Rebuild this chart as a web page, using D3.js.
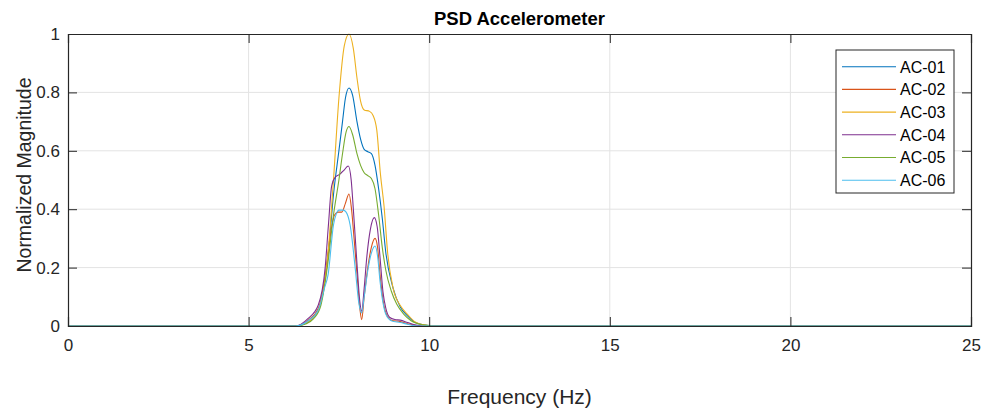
<!DOCTYPE html>
<html>
<head>
<meta charset="utf-8">
<script src="https://cdn.jsdelivr.net/npm/d3@7"></script>
<style>
  body { margin: 0; background: #fff; }
  svg text { font-family: "Liberation Sans", Arial, sans-serif; }
</style>
</head>
<body>
<div id="main"></div>
<script>
const ctx = {
    w: 984,
    h: 409,
    margin: { top: 34, right: 13, bottom: 83, left: 68 },
};

// valeurs : [fréquence (Hz), amplitude normalisée]
const seriesNames = ["AC-01", "AC-02", "AC-03", "AC-04", "AC-05", "AC-06"];
const seriesColors = ["#0072BD", "#D95319", "#EDB120", "#7E2F8E", "#77AC30", "#4DBEEE"];

const ac01 = [[0,0],[6.3,0],[6.6,0.01],[6.8,0.03],[7.0,0.08],[7.2,0.24],[7.35,0.45],[7.5,0.6],[7.6,0.7],[7.68,0.78],[7.78,0.815],[7.88,0.79],[8.0,0.70],[8.1,0.64],[8.2,0.605],[8.3,0.597],[8.4,0.59],[8.5,0.55],[8.6,0.47],[8.7,0.37],[8.8,0.25],[9.0,0.13],[9.2,0.065],[9.4,0.035],[9.6,0.013],[9.9,0.003],[10.2,0],[25,0]];
const ac02 = [[0,0],[6.3,0],[6.65,0.02],[6.93,0.06],[7.12,0.17],[7.25,0.3],[7.38,0.38],[7.48,0.39],[7.58,0.39],[7.68,0.42],[7.78,0.452],[7.85,0.4],[7.92,0.3],[8.0,0.18],[8.08,0.06],[8.13,0.022],[8.2,0.1],[8.3,0.2],[8.4,0.27],[8.5,0.30],[8.57,0.27],[8.64,0.175],[8.72,0.09],[8.8,0.045],[8.95,0.02],[9.2,0.015],[9.4,0.008],[9.6,0.002],[9.8,0],[25,0]];
const ac03 = [[0,0],[6.3,0],[6.6,0.01],[6.8,0.03],[7.0,0.08],[7.2,0.25],[7.35,0.5],[7.5,0.78],[7.65,0.96],[7.78,1.0],[7.9,0.95],[8.0,0.85],[8.1,0.77],[8.2,0.74],[8.35,0.735],[8.45,0.72],[8.55,0.67],[8.65,0.52],[8.75,0.41],[8.85,0.25],[9.0,0.13],[9.2,0.07],[9.4,0.04],[9.6,0.015],[9.9,0.003],[10.2,0],[25,0]];
const ac04 = [[0,0],[6.3,0],[6.65,0.026],[6.93,0.072],[7.12,0.2],[7.21,0.346],[7.3,0.48],[7.4,0.51],[7.53,0.52],[7.65,0.535],[7.76,0.548],[7.84,0.5],[7.9,0.40],[7.99,0.233],[8.08,0.083],[8.13,0.05],[8.2,0.13],[8.27,0.233],[8.37,0.33],[8.48,0.371],[8.56,0.34],[8.64,0.233],[8.72,0.117],[8.8,0.06],[8.9,0.03],[9.05,0.022],[9.2,0.02],[9.4,0.012],[9.6,0.004],[9.8,0],[25,0]];
const ac05 = [[0,0],[6.3,0],[6.6,0.008],[6.8,0.025],[7.0,0.07],[7.2,0.22],[7.35,0.38],[7.5,0.5],[7.6,0.59],[7.7,0.665],[7.78,0.683],[7.88,0.655],[8.0,0.59],[8.1,0.55],[8.2,0.525],[8.3,0.515],[8.4,0.505],[8.5,0.47],[8.6,0.38],[8.7,0.27],[8.8,0.19],[8.95,0.12],[9.1,0.075],[9.3,0.04],[9.5,0.018],[9.8,0.004],[10.1,0],[25,0]];
const ac06 = [[0,0],[6.3,0],[6.65,0.018],[6.93,0.055],[7.1,0.13],[7.2,0.175],[7.35,0.346],[7.43,0.385],[7.5,0.397],[7.62,0.397],[7.7,0.39],[7.81,0.346],[7.95,0.2],[8.05,0.08],[8.13,0.045],[8.2,0.1],[8.3,0.19],[8.4,0.25],[8.5,0.274],[8.57,0.24],[8.64,0.152],[8.72,0.08],[8.8,0.04],[8.95,0.018],[9.2,0.012],[9.4,0.006],[9.6,0.001],[9.8,0],[25,0]];

const seriesData = [ac01, ac02, ac03, ac04, ac05, ac06];

const xTicks = [0, 5, 10, 15, 20, 25];
const yTicks = [0, 0.2, 0.4, 0.6, 0.8, 1];

function createViz() {
    const svg = d3.select("#main").append("svg")
        .attr("width", ctx.w)
        .attr("height", ctx.h);

    const x0 = ctx.margin.left, x1 = ctx.w - ctx.margin.right;
    const y0 = ctx.h - ctx.margin.bottom, y1 = ctx.margin.top;

    const xScale = d3.scaleLinear().domain([0, 25]).range([x0, x1]);
    const yScale = d3.scaleLinear().domain([0, 1]).range([y0, y1]);

    // grille
    const grid = svg.append("g");
    grid.selectAll(".gx").data(xTicks.slice(1, -1)).enter().append("line")
        .attr("x1", d => xScale(d)).attr("x2", d => xScale(d))
        .attr("y1", y0).attr("y2", y1)
        .attr("stroke", "#e3e3e3").attr("stroke-width", 1);
    grid.selectAll(".gy").data(yTicks.slice(1, -1)).enter().append("line")
        .attr("x1", x0).attr("x2", x1)
        .attr("y1", d => yScale(d)).attr("y2", d => yScale(d))
        .attr("stroke", "#e3e3e3").attr("stroke-width", 1);

    // courbes
    const line = d3.line()
        .x(d => xScale(d[0]))
        .y(d => yScale(d[1]))
        .curve(d3.curveMonotoneX);

    const plot = svg.append("g");
    seriesData.forEach((s, i) => {
        plot.append("path")
            .datum(s)
            .attr("d", line)
            .attr("fill", "none")
            .attr("stroke", seriesColors[i])
            .attr("stroke-width", 1.1);
    });

    // axes (ticks vers l'intérieur, comme MATLAB)
    const axisColor = "#262626";
    const fmt = d3.format("~g");
    const xAxis = d3.axisBottom(xScale).tickValues(xTicks).tickSize(-9).tickPadding(13).tickFormat(fmt);
    const yAxis = d3.axisLeft(yScale).tickValues(yTicks).tickSize(-9).tickPadding(8).tickFormat(fmt);
    const xTop = d3.axisTop(xScale).tickValues(xTicks).tickSize(-9).tickFormat("");
    const yRight = d3.axisRight(yScale).tickValues(yTicks).tickSize(-9).tickFormat("");

    const gx = svg.append("g").attr("transform", `translate(0, ${y0})`).call(xAxis);
    const gy = svg.append("g").attr("transform", `translate(${x0}, 0)`).call(yAxis);
    const gt = svg.append("g").attr("transform", `translate(0, ${y1})`).call(xTop);
    const gr = svg.append("g").attr("transform", `translate(${x1}, 0)`).call(yRight);

    [gx, gy, gt, gr].forEach(g => {
        g.selectAll("path").attr("stroke", axisColor).attr("stroke-width", 1.2);
        g.selectAll("line").attr("stroke", axisColor);
        g.selectAll("text")
            .style("font-size", "17px")
            .style("fill", axisColor)
            .style("font-family", "'Liberation Sans', Arial, sans-serif");
    });

    // titre
    svg.append("text")
        .attr("x", (x0 + x1) / 2)
        .attr("y", 25)
        .style("text-anchor", "middle")
        .style("font-weight", "bold")
        .style("font-size", "18.5px")
        .style("fill", "#000")
        .text("PSD Accelerometer");

    // noms des axes
    svg.append("text")
        .attr("x", (x0 + x1) / 2)
        .attr("y", 404)
        .style("text-anchor", "middle")
        .style("font-size", "21px")
        .style("fill", axisColor)
        .text("Frequency (Hz)");

    svg.append("text")
        .attr("transform", "rotate(-90)")
        .attr("x", -175)
        .attr("y", 31)
        .style("text-anchor", "middle")
        .style("font-size", "19.5px")
        .style("fill", axisColor)
        .text("Normalized Magnitude");

    // légende
    const leg = svg.append("g").attr("transform", "translate(836, 50)");
    leg.append("rect")
        .attr("width", 118).attr("height", 143)
        .attr("fill", "#fff")
        .attr("stroke", axisColor).attr("stroke-width", 1);
    seriesNames.forEach((name, i) => {
        const yy = 16.7 + i * 22.7;
        leg.append("line")
            .attr("x1", 6).attr("x2", 60)
            .attr("y1", yy).attr("y2", yy)
            .attr("stroke", seriesColors[i]).attr("stroke-width", 1.1);
        leg.append("text")
            .attr("x", 64).attr("y", yy + 5.8)
            .style("font-size", "16px")
            .style("fill", "#000")
            .text(name);
    });
}

createViz();
</script>
</body>
</html>
